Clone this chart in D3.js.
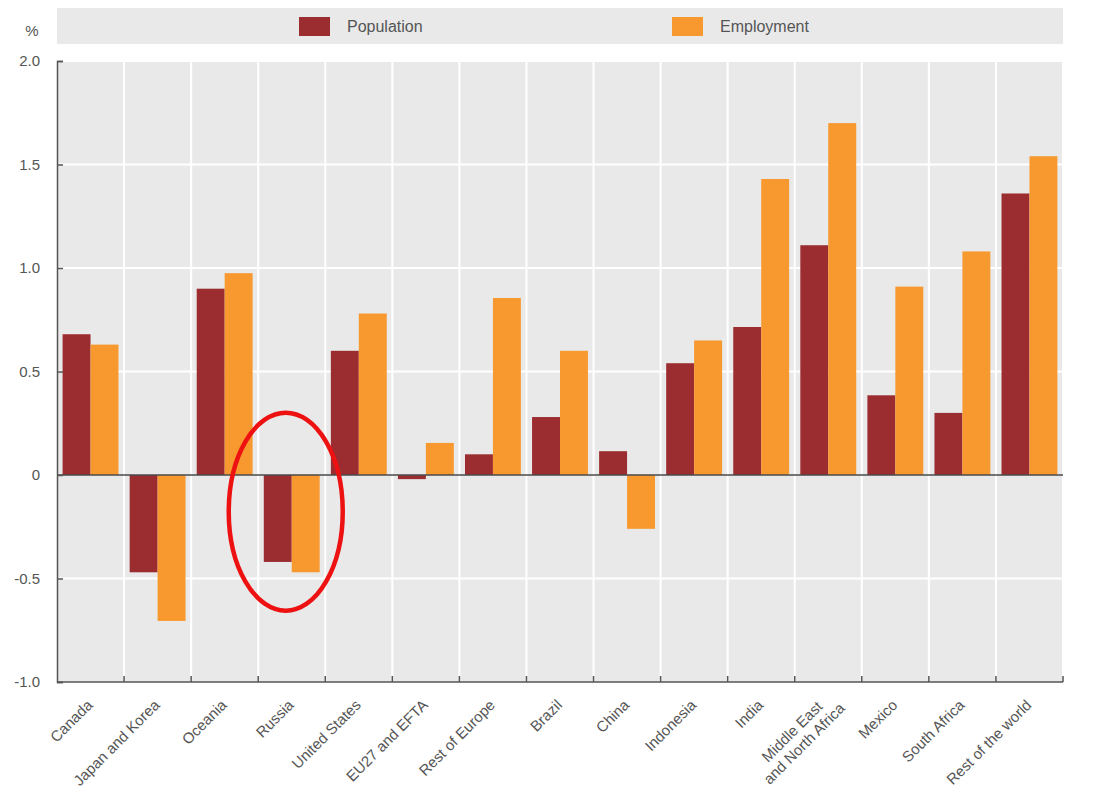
<!DOCTYPE html>
<html>
<head>
<meta charset="utf-8">
<script src="https://cdn.jsdelivr.net/npm/d3@7"></script>
<style>
  html, body { margin: 0; padding: 0; background: #ffffff; }
  svg { display: block; }
  text { font-family: "Liberation Sans Narrow", "Liberation Sans", Arial, sans-serif; }
</style>
</head>
<body>
<svg id="chart" width="1105" height="808"></svg>
<script>
// Regions, in display order
const regions = [
  "Canada", "Japan and Korea", "Oceania", "Russia", "United States",
  "EU27 and EFTA", "Rest of Europe", "Brazil", "China", "Indonesia",
  "India", "Middle East\nand North Africa", "Mexico", "South Africa", "Rest of the world"
];
// Average annual growth, %
const population = [0.68, -0.47, 0.90, -0.42, 0.60, -0.02, 0.10, 0.28, 0.115, 0.54, 0.715, 1.11, 0.385, 0.30, 1.36];
const employment = [0.63, -0.705, 0.975, -0.47, 0.78, 0.155, 0.855, 0.60, -0.26, 0.65, 1.43, 1.70, 0.91, 1.08, 1.54];
const seriesNames = ["Population", "Employment"];
const seriesColors = ["#9b2d30", "#f7992f"];
const yTicks = [-1.0, -0.5, 0, 0.5, 1.0, 1.5, 2.0];
const yTickLabels = ["-1.0", "-0.5", "0", "0.5", "1.0", "1.5", "2.0"];
const highlighted = "Russia";

const svg = d3.select("#chart");
const plot = { left: 57, right: 1063, top: 61, bottom: 682 };

const x = d3.scaleBand().domain(regions).range([plot.left, plot.right]).paddingInner(0).paddingOuter(0);
const inner = d3.scaleBand().domain(seriesNames).range([0, x.bandwidth()]).paddingInner(0).paddingOuter(0.2);
const y = d3.scaleLinear().domain([-1, 2]).range([plot.bottom, plot.top]);

// Legend band
svg.append("rect").attr("x", plot.left).attr("y", 8).attr("width", plot.right - plot.left).attr("height", 36).attr("fill", "#e9e9e9");
const legendX = [299, 672];
seriesNames.forEach((s, i) => {
  svg.append("rect").attr("x", legendX[i]).attr("y", 17).attr("width", 31).attr("height", 19).attr("fill", seriesColors[i]);
  svg.append("text").attr("x", legendX[i] + 48).attr("y", 32).attr("font-size", 16).attr("fill", "#555").text(s);
});

// Plot background
svg.append("rect").attr("x", plot.left).attr("y", plot.top).attr("width", plot.right - plot.left).attr("height", plot.bottom - plot.top).attr("fill", "#e9e9e9");

// Horizontal gridlines
svg.append("g").selectAll("line").data(yTicks.filter(t => t !== 0 && t !== -1)).join("line")
  .attr("x1", plot.left).attr("x2", plot.right)
  .attr("y1", d => y(d)).attr("y2", d => y(d))
  .attr("stroke", "#ffffff").attr("stroke-width", 2);

// Vertical separators between regions
const bounds = regions.slice(1).map(r => x(r)).concat([plot.right]);
svg.append("g").selectAll("line").data(bounds).join("line")
  .attr("x1", d => d).attr("x2", d => d)
  .attr("y1", plot.top).attr("y2", plot.bottom)
  .attr("stroke", "#ffffff").attr("stroke-width", 2);

// Bars
const rows = regions.map((r, i) => ({ region: r, values: [population[i], employment[i]] }));
const groups = svg.append("g").selectAll("g").data(rows).join("g")
  .attr("transform", d => `translate(${x(d.region)},0)`);
groups.selectAll("rect").data(d => d.values.map((v, i) => ({ v, s: seriesNames[i], c: seriesColors[i] }))).join("rect")
  .attr("x", d => inner(d.s))
  .attr("width", inner.bandwidth())
  .attr("y", d => y(Math.max(0, d.v)))
  .attr("height", d => Math.abs(y(d.v) - y(0)))
  .attr("fill", d => d.c);

// Zero line
svg.append("line").attr("x1", plot.left).attr("x2", plot.right).attr("y1", y(0)).attr("y2", y(0))
  .attr("stroke", "#4a4a4a").attr("stroke-width", 1.5);

// Y axis
const yAxis = d3.axisLeft(y).tickValues(yTicks).tickSize(-6).tickPadding(17)
  .tickFormat((d, i) => yTickLabels[i]);
const yg = svg.append("g").attr("transform", `translate(${plot.left},0)`).call(yAxis);
yg.select(".domain").attr("stroke", "#555").attr("stroke-width", 1.5);
yg.selectAll(".tick line").attr("stroke", "#555").attr("stroke-width", 1.5);
yg.selectAll(".tick text").attr("font-size", 15).attr("fill", "#555");
svg.append("text").attr("x", 32).attr("y", 36).attr("font-size", 15).attr("fill", "#555").attr("text-anchor", "middle").text("%");

// X axis baseline with separators ticking upward
svg.append("line").attr("x1", plot.left).attr("x2", plot.right).attr("y1", plot.bottom).attr("y2", plot.bottom)
  .attr("stroke", "#555").attr("stroke-width", 1.5);
svg.append("g").selectAll("line").data(bounds).join("line")
  .attr("x1", d => d).attr("x2", d => d)
  .attr("y1", plot.bottom).attr("y2", plot.bottom - 6)
  .attr("stroke", "#555").attr("stroke-width", 1.5);

// Rotated region labels; multi-line labels are centred on their longest line
const lineH = 17;
const labels = svg.append("g").selectAll("text").data(regions).join("text")
  .attr("transform", d => `translate(${x(d) + x.bandwidth() / 2 + 3},${plot.bottom + 24}) rotate(-45)`)
  .attr("text-anchor", "end")
  .attr("font-size", 15)
  .attr("fill", "#555");
labels.each(function(d) {
  const lines = d.split("\n");
  const t = d3.select(this);
  if (lines.length === 1) { t.text(d); return; }
  const spans = lines.map((ln, i) => t.append("tspan")
    .attr("x", 0)
    .attr("y", (i - (lines.length - 1) / 2) * lineH + 4)
    .text(ln));
  const lens = spans.map(s => s.node().getComputedTextLength());
  const maxLen = d3.max(lens);
  spans.forEach((s, i) => s.attr("x", 8 - (maxLen - lens[i]) / 2));
});

// Highlight ring around one region
const hi = rows.find(r => r.region === highlighted);
const hiMin = d3.min(hi.values);
svg.append("ellipse")
  .attr("cx", x(highlighted) + x.bandwidth() / 2 - 6)
  .attr("cy", (y(0) + y(hiMin)) / 2 - 12)
  .attr("rx", 57).attr("ry", 99)
  .attr("fill", "none").attr("stroke", "#ee1111").attr("stroke-width", 4.5);
</script>
</body>
</html>
